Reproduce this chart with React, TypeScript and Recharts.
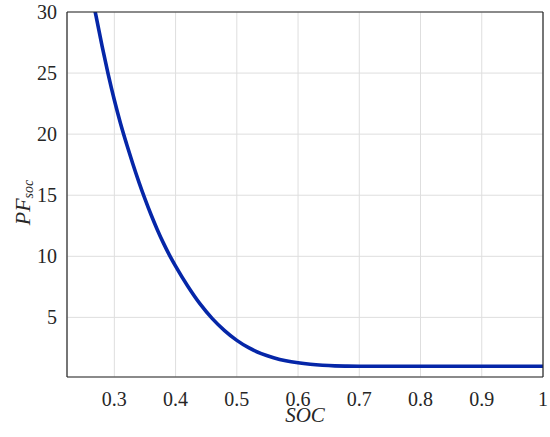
import React from 'react';
import { LineChart, Line, XAxis, YAxis, CartesianGrid } from 'recharts';

const socValues = [0.265, 0.27, 0.28, 0.29, 0.3, 0.31, 0.32, 0.33, 0.34, 0.35, 0.36, 0.37, 0.38, 0.39, 0.4, 0.42, 0.44, 0.46, 0.48, 0.5, 0.52, 0.54, 0.56, 0.58, 0.6, 0.62, 0.64, 0.66, 0.68, 0.7, 0.75, 0.8, 0.85, 0.9, 0.95, 1.0];
const pfValues = [30.9, 29.7, 27.2, 24.9, 22.8, 20.9, 19.2, 17.6, 16.1, 14.7, 13.4, 12.2, 11.1, 10.1, 9.2, 7.55, 6.1, 4.9, 3.92, 3.12, 2.5, 2.03, 1.7, 1.45, 1.28, 1.16, 1.08, 1.03, 1.01, 1.0, 1.0, 1.0, 1.0, 1.0, 1.0, 1.0];

const xTicks = [0.3, 0.4, 0.5, 0.6, 0.7, 0.8, 0.9, 1.0];
const yTicks = [5, 10, 15, 20, 25, 30];
const xDomain: [number, number] = [0.2227, 1.0];
const yDomain: [number, number] = [0.12, 30];

const data = socValues.map((s, i) => ({ soc: s, pf: pfValues[i] }));

const FONT = 'Liberation Serif';
const AXIS_COLOR = '#262626';

const fmtX = (v: number) => (Math.abs(v - 1) < 1e-9 ? '1' : v.toFixed(1));

const css = `
#pfchart svg text { font-family: 'Liberation Serif', serif !important; }
#pfchart svg text.tk { font-size: 20px !important; font-style: normal !important; }
#pfchart svg text.lbl { font-size: 22px !important; font-style: italic !important; }
#pfchart svg text.xl { font-size: 21px !important; }
#pfchart svg text.lbl tspan.sub { font-size: 14px !important; }
`;

const XTick = (props: any) => {
  const { x, y, payload } = props;
  return (
    <text className="tk" x={x} y={y} dy="0.71em" textAnchor="middle" fontFamily={FONT} fontSize={20} fill={AXIS_COLOR}>
      {fmtX(payload.value)}
    </text>
  );
};

const YTick = (props: any) => {
  const { x, y, payload } = props;
  return (
    <text className="tk" x={x} y={y} dy="0.355em" textAnchor="end" fontFamily={FONT} fontSize={20} fill={AXIS_COLOR}>
      {String(payload.value)}
    </text>
  );
};

const YLabel = (props: any) => {
  const vb = props.viewBox || { x: 0, y: 12, width: 67, height: 365 };
  const cx = vb.x + 25;
  const cy = vb.y + vb.height / 2 + 8;
  return (
    <text
      className="lbl"
      x={cx}
      y={cy}
      transform={`rotate(-90, ${cx}, ${cy})`}
      textAnchor="middle"
      fontFamily={FONT}
      fontStyle="italic"
      fontSize={22}
      fill={AXIS_COLOR}
      dominantBaseline="middle"
    >
      <tspan>PF</tspan>
      <tspan className="sub" fontSize={14} dy={5}>soc</tspan>
    </text>
  );
};

const XLabel = (props: any) => {
  const vb = props.viewBox || { x: 67, y: 377, width: 476, height: 60 };
  const cx = vb.x + vb.width / 2;
  return (
    <text
      className="lbl xl"
      x={cx}
      y={vb.y + 45}
      textAnchor="middle"
      fontFamily={FONT}
      fontStyle="italic"
      fontSize={21}
      fill={AXIS_COLOR}
    >
      SOC
    </text>
  );
};

export default function App() {
  return (
    <div id="pfchart" style={{ position: 'absolute', left: 0, top: 0, width: 550, height: 437, background: '#fff' }}>
      <style>{css}</style>
      <LineChart width={550} height={437} data={data} margin={{ top: 12, right: 7, bottom: 0, left: 0 }}>
        <CartesianGrid stroke="#dedede" strokeWidth={1} />
        <XAxis
          xAxisId={0}
          dataKey="soc"
          type="number"
          domain={xDomain}
          allowDataOverflow
          ticks={xTicks}
          tickLine={false}
          tickSize={0}
          tickMargin={15}
          height={60}
          axisLine={{ stroke: AXIS_COLOR, strokeWidth: 1.2 }}
          tick={<XTick />}
          label={<XLabel />}
        />
        <XAxis
          xAxisId="bm"
          dataKey="soc"
          type="number"
          domain={xDomain}
          allowDataOverflow
          ticks={xTicks}
          orientation="bottom"
          mirror
          tick={false}
          tickLine={{ stroke: AXIS_COLOR, strokeWidth: 1.2 }}
          tickSize={4}
          axisLine={false}
        />
        <XAxis
          xAxisId="tm"
          dataKey="soc"
          type="number"
          domain={xDomain}
          allowDataOverflow
          ticks={xTicks}
          orientation="top"
          mirror
          tick={false}
          tickLine={{ stroke: AXIS_COLOR, strokeWidth: 1.2 }}
          tickSize={4}
          axisLine={{ stroke: AXIS_COLOR, strokeWidth: 1.2 }}
        />
        <YAxis
          yAxisId={0}
          type="number"
          domain={yDomain}
          allowDataOverflow
          ticks={yTicks}
          tickLine={false}
          tickSize={0}
          tickMargin={10}
          width={67}
          axisLine={{ stroke: AXIS_COLOR, strokeWidth: 1.2 }}
          tick={<YTick />}
          label={<YLabel />}
        />
        <YAxis
          yAxisId="lm"
          type="number"
          domain={yDomain}
          allowDataOverflow
          ticks={yTicks}
          orientation="left"
          mirror
          tick={false}
          tickLine={{ stroke: AXIS_COLOR, strokeWidth: 1.2 }}
          tickSize={4}
          axisLine={false}
        />
        <YAxis
          yAxisId="rm"
          type="number"
          domain={yDomain}
          allowDataOverflow
          ticks={yTicks}
          orientation="right"
          mirror
          tick={false}
          tickLine={{ stroke: AXIS_COLOR, strokeWidth: 1.2 }}
          tickSize={4}
          axisLine={{ stroke: AXIS_COLOR, strokeWidth: 1.2 }}
        />
        <Line
          xAxisId={0}
          yAxisId={0}
          dataKey="pf"
          type="monotone"
          stroke="#0526a8"
          strokeWidth={3.6}
          dot={false}
          isAnimationActive={false}
        />
      </LineChart>
    </div>
  );
}
